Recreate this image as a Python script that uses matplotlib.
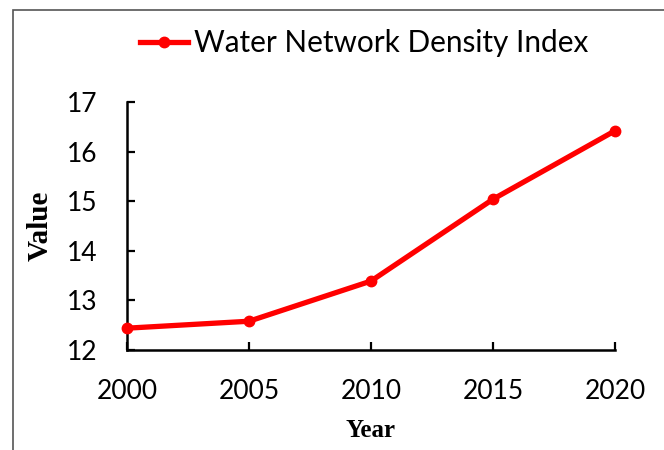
import numpy as np
import matplotlib.pyplot as plt
from matplotlib.patches import Rectangle

# data
years = [2000, 2005, 2010, 2015, 2020]
values = [12.44, 12.58, 13.39, 15.04, 16.42]
y_ticks = [12, 13, 14, 15, 16, 17]

fig = plt.figure(figsize=(6.64, 4.5), dpi=100)
ax = fig.add_axes([127/664, 1-350/450, (615-127)/664, (350-102)/450])

# frame around the figure (only top and left visible in the reference)
fig.patches.append(Rectangle((13/664, -0.1), 1.2, 1-10/450+0.1, transform=fig.transFigure,
                             fill=False, edgecolor='#555555', linewidth=1.2))

ax.plot(years, values, color='#ff0000', linewidth=3.8, marker='o', markersize=7.5,
        clip_on=False, label='Water Network Density Index', zorder=3)

ax.set_xlim(2000, 2020)
ax.set_ylim(12, 17)
ax.set_xticks(years)
ax.set_yticks(y_ticks)

for sp in ['top', 'right']:
    ax.spines[sp].set_visible(False)
for sp in ['left', 'bottom']:
    ax.spines[sp].set_linewidth(1.8)

ax.tick_params(direction='in', length=6, width=1.6, pad=21, labelsize=19)
for lab in ax.get_xticklabels() + ax.get_yticklabels():
    lab.set_fontfamily('Lato')

ax.set_ylabel('Value', fontfamily='Liberation Serif', fontweight='bold', fontsize=21, labelpad=10)
ax.set_xlabel('Year', fontfamily='Liberation Serif', fontweight='bold', fontsize=18, labelpad=11)

leg = fig.legend(loc='center', bbox_to_anchor=(364/664, 1-43/450), frameon=False,
                 prop={'family': 'Lato', 'size': 21.4}, handlelength=1.6, handletextpad=0.2)

fig.savefig('out.png', dpi=100)
